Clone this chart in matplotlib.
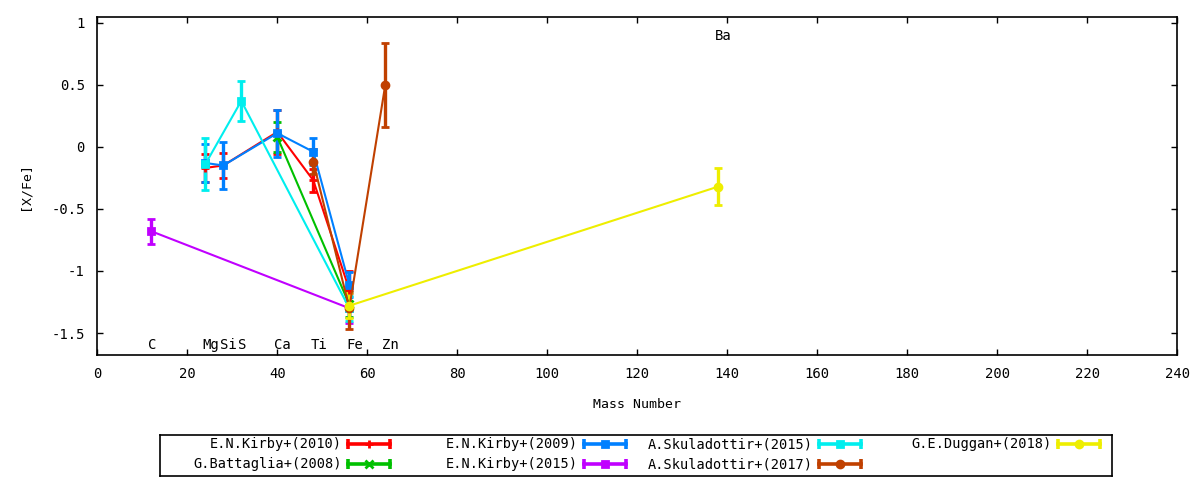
import numpy as np
import matplotlib
matplotlib.use('Agg')
import matplotlib.pyplot as plt

plt.rcParams['font.family'] = ['DejaVu Sans Mono']
plt.rcParams['font.size'] = 10
plt.rcParams['axes.unicode_minus'] = False

# element labels (mass number, text, y of label)
elem_mass = [12, 24, 28, 32, 40, 48, 56, 64, 138]
elem_name = ['C', 'Mg', 'Si', 'S', 'Ca', 'Ti', 'Fe', 'Zn', 'Ba']
elem_ypos = [-1.6, -1.6, -1.6, -1.6, -1.6, -1.6, -1.6, -1.6, 0.89]

# series: mass number, [X/Fe], error
kirby10_x = [24, 28, 40, 48, 56]
kirby10_y = [-0.17, -0.15, 0.12, -0.27, -1.15]
kirby10_e = [0.11, 0.10, 0.18, 0.09, 0.15]

battaglia08_x = [40, 56]
battaglia08_y = [0.08, -1.27]
battaglia08_e = [0.12, 0.10]

kirby09_x = [24, 28, 40, 48, 56]
kirby09_y = [-0.13, -0.15, 0.11, -0.04, -1.11]
kirby09_e = [0.15, 0.19, 0.19, 0.11, 0.10]

kirby15_x = [12, 56]
kirby15_y = [-0.68, -1.30]
kirby15_e = [0.10, 0.12]

sku15_x = [24, 32, 56]
sku15_y = [-0.14, 0.37, -1.30]
sku15_e = [0.21, 0.16, 0.10]

sku17_x = [48, 56, 64]
sku17_y = [-0.12, -1.30, 0.50]
sku17_e = [0.10, 0.17, 0.34]

duggan18_x = [56, 138]
duggan18_y = [-1.28, -0.32]
duggan18_e = [0.10, 0.15]

series = [
    ('E.N.Kirby+(2010)', kirby10_x, kirby10_y, kirby10_e, '#ff0000', '+'),
    ('G.Battaglia+(2008)', battaglia08_x, battaglia08_y, battaglia08_e, '#00c000', 'x'),
    ('E.N.Kirby+(2009)', kirby09_x, kirby09_y, kirby09_e, '#0080ff', 's'),
    ('E.N.Kirby+(2015)', kirby15_x, kirby15_y, kirby15_e, '#c000ff', 's'),
    ('A.Skuladottir+(2015)', sku15_x, sku15_y, sku15_e, '#00eeee', 's'),
    ('A.Skuladottir+(2017)', sku17_x, sku17_y, sku17_e, '#c04000', 'o'),
    ('G.E.Duggan+(2018)', duggan18_x, duggan18_y, duggan18_e, '#eeee00', 'o'),
]

def msize(m):
    return 6 if m in '+x' else 5

fig = plt.figure(figsize=(12, 4.8), dpi=100)
ax = fig.add_axes([97.3/1200, 1-355/480, 1080/1200, 338/480])

for name, x, y, e, c, m in series:
    ax.errorbar(x, y, yerr=e, color=c, marker=m, ms=msize(m), mew=2, lw=1.5,
                elinewidth=2.4, capsize=2.6, capthick=2.4)

for mx, nm, yy in zip(elem_mass, elem_name, elem_ypos):
    ax.text(mx - 0.7, yy, nm, ha='left', va='center', fontsize=10)

ax.set_xlim(0, 240)
ax.set_ylim(-1.677, 1.046)
ax.set_xticks(np.arange(0, 241, 20))
ax.set_yticks([-1.5, -1, -0.5, 0, 0.5, 1])
ax.set_yticklabels(['-1.5', '-1', '-0.5', '0', '0.5', '1'])
ax.tick_params(direction='in', top=True, right=True, length=4, width=1,
               labelsize=10, pad=9)
for s in ax.spines.values():
    s.set_linewidth(1.2)
ax.set_xlabel('Mass Number', fontsize=9.5, labelpad=12)
ax.set_ylabel('[X/Fe]', fontsize=9.5, labelpad=14)

# legend box drawn by hand, gnuplot style (text then sample)
lg = fig.add_axes([160/1200, 1-476/480, 952/1200, 41/480])
lg.set_xlim(160, 1112)
lg.set_ylim(476, 435)
lg.set_xticks([])
lg.set_yticks([])
for s in lg.spines.values():
    s.set_linewidth(1.2)
col_text = [342, 578, 813, 1052]
rows = [444, 464]
for i, (name, x, y, e, c, m) in enumerate(series):
    col, row = divmod(i, 2)
    tx = col_text[col]
    ty = rows[row]
    lg.text(tx, ty, name, ha='right', va='center', fontsize=9.8)
    x0, x1 = tx + 6, tx + 48
    lg.plot([x0, x1], [ty, ty], color=c, lw=2.6)
    lg.plot([x0, x1], [ty, ty], ls='none', marker='|', ms=7, mew=2.6, color=c)
    lg.plot([(x0 + x1) / 2], [ty], marker=m, ms=msize(m), mew=2, color=c)

fig.savefig('out.png', dpi=100)
